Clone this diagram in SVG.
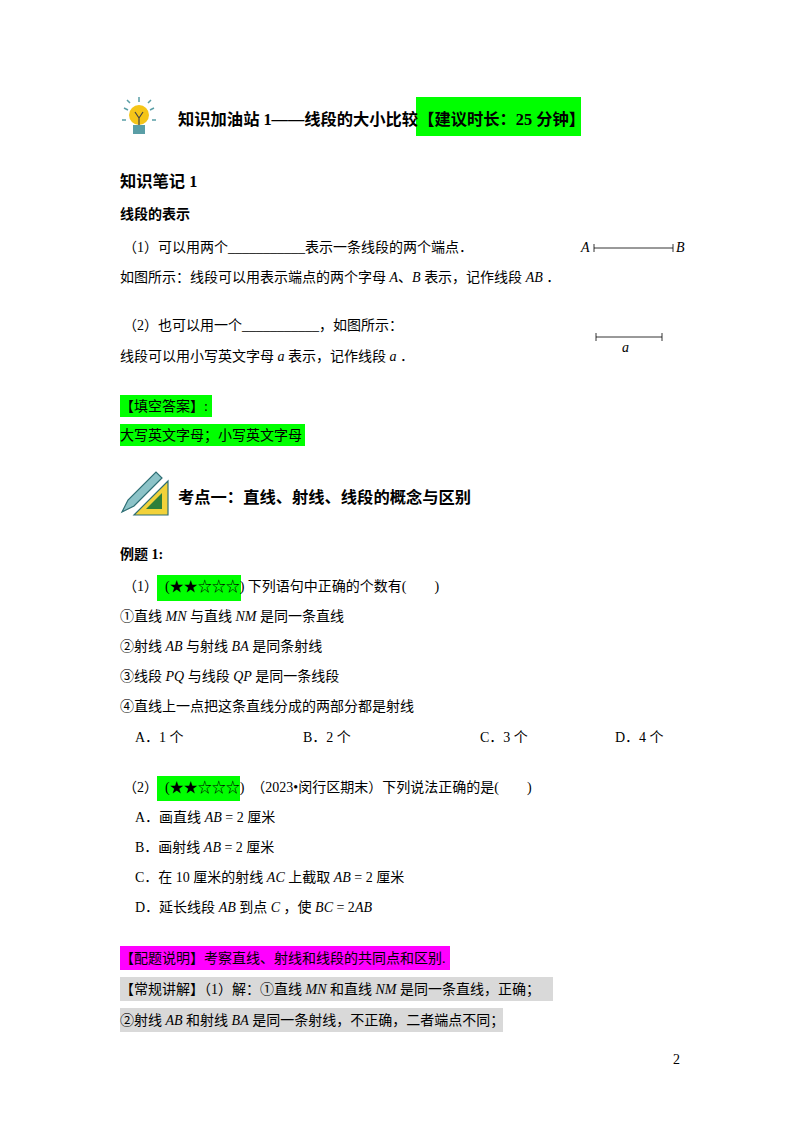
<svg xmlns="http://www.w3.org/2000/svg" width="800" height="1132" viewBox="0 0 800 1132">
<style>
text{font-family:"Liberation Serif","Noto Sans CJK SC",serif;font-size:14px;fill:#000;white-space:pre}
.b{font-weight:bold}
.h{font-size:16.3px;font-weight:bold}
.i{font-style:italic}
</style>
<rect width="800" height="1132" fill="#fff"/>
<g id="icon1">
<circle cx="139" cy="115" r="10" fill="#f5c518"/>
<rect x="133" y="125" width="12" height="9" fill="#5a9ea6"/>
<path d="M135 112l4 6 4-6M139 118v7" stroke="#444" fill="none" stroke-width="1.2"/>
<path d="M124 108l4 2M154 108l-4 2M139 97v5M127 100l3 3M151 100l-3 3M122 120h4M152 120h4" stroke="#5a9ea6" stroke-width="1.5"/>
</g>
<rect x="416" y="97" width="165" height="39" fill="#00ff00"/>
<text x="178" y="125" class="h">知识加油站 1——线段的大小比较【建议时长：25 分钟】</text>
<text x="120" y="187" class="h">知识笔记 1</text>
<text x="120" y="219" class="b">线段的表示</text>
<text x="123" y="252">（1）可以用两个___________表示一条线段的两个端点．</text>
<g id="segAB">
<text x="581" y="252" class="i" font-size="13">A</text>
<path d="M594 248H673M594 244v8M673 244v8" stroke="#000" stroke-width="0.8"/>
<text x="676" y="252" class="i" font-size="13">B</text>
</g>
<text x="120" y="282">如图所示：线段可以用表示端点的两个字母 <tspan class="i">A</tspan>、<tspan class="i">B</tspan> 表示，记作线段 <tspan class="i">AB</tspan> ．</text>
<text x="123" y="330">（2）也可以用一个___________，如图所示：</text>
<g id="sega">
<path d="M596 337H662M596 333v8M662 333v8" stroke="#000" stroke-width="0.8"/>
<text x="622" y="352" class="i" font-size="13">a</text>
</g>
<text x="120" y="361">线段可以用小写英文字母 <tspan class="i">a</tspan> 表示，记作线段 <tspan class="i">a</tspan> ．</text>
<rect x="120" y="395" width="92" height="22" fill="#00ff00"/>
<text x="120" y="411">【填空答案】:</text>
<rect x="120" y="424" width="185" height="22" fill="#00ff00"/>
<text x="120" y="440">大写英文字母；小写英文字母</text>
<g id="icon2">
<path d="M122 512l12-6 28-28-6-6-28 28z" fill="#8cc3c8" stroke="#2f6f75" stroke-width="1.2"/>
<path d="M134 515h34v-34z" fill="#f2d23a" stroke="#2f6f75" stroke-width="1.2"/>
<path d="M146 509h16v-16z" fill="#2f7f3a"/>
</g>
<text x="178" y="503" class="h">考点一：直线、射线、线段的概念与区别</text>
<text x="120" y="559" class="b">例题 1:</text>
<rect x="157" y="575" width="84" height="26" fill="#00ff00"/>
<text x="123" y="591">（1）  (★★☆☆☆) 下列语句中正确的个数有(&#160;&#160;&#160;&#160;&#160;&#160;&#160;&#160;)</text>
<text x="120" y="621">①直线 <tspan class="i">MN</tspan> 与直线 <tspan class="i">NM</tspan> 是同一条直线</text>
<text x="120" y="651">②射线 <tspan class="i">AB</tspan> 与射线 <tspan class="i">BA</tspan> 是同条射线</text>
<text x="120" y="681">③线段 <tspan class="i">PQ</tspan> 与线段 <tspan class="i">QP</tspan> 是同一条线段</text>
<text x="120" y="711">④直线上一点把这条直线分成的两部分都是射线</text>
<text x="135" y="742">A．1 个</text>
<text x="303" y="742">B．2 个</text>
<text x="480" y="742">C．3 个</text>
<text x="615" y="742">D．4 个</text>
<rect x="157" y="776" width="83" height="25" fill="#00ff00"/>
<text x="123" y="792">（2）  (★★☆☆☆)  （2023•闵行区期末）下列说法正确的是(&#160;&#160;&#160;&#160;&#160;&#160;&#160;&#160;)</text>
<text x="135" y="822">A．画直线 <tspan class="i">AB</tspan> = 2 厘米</text>
<text x="135" y="852">B．画射线 <tspan class="i">AB</tspan> = 2 厘米</text>
<text x="135" y="882">C．在 10 厘米的射线 <tspan class="i">AC</tspan> 上截取 <tspan class="i">AB</tspan> = 2 厘米</text>
<text x="135" y="912">D．延长线段 <tspan class="i">AB</tspan> 到点 <tspan class="i">C</tspan> ，使 <tspan class="i">BC</tspan> = 2<tspan class="i">AB</tspan></text>
<rect x="120" y="946" width="330" height="24" fill="#ff00ff"/>
<text x="120" y="963">【配题说明】考察直线、射线和线段的共同点和区别.</text>
<rect x="120" y="977" width="433" height="24" fill="#d9d9d9"/>
<text x="120" y="994">【常规讲解】（1）解：①直线 <tspan class="i">MN</tspan> 和直线 <tspan class="i">NM</tspan> 是同一条直线，正确；</text>
<rect x="120" y="1008" width="383" height="24" fill="#d9d9d9"/>
<text x="120" y="1025">②射线 <tspan class="i">AB</tspan> 和射线 <tspan class="i">BA</tspan> 是同一条射线，不正确，二者端点不同；</text>
<text x="673" y="1064" font-size="13">2</text>
</svg>
